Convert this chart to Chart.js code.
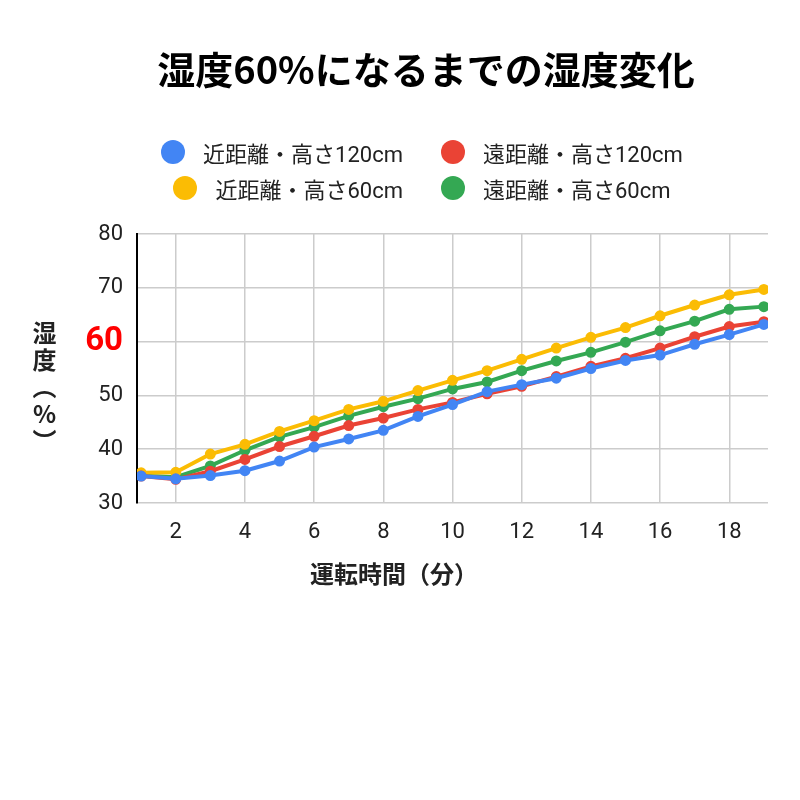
<!DOCTYPE html>
<html>
<head>
<meta charset="utf-8">
<script src="https://cdn.jsdelivr.net/npm/chart.js@4.4.1/dist/chart.umd.min.js"></script>
<style>
  body { margin: 0; background: #fff; }
  #wrap { position: relative; width: 800px; height: 800px; font-family: Roboto, "Noto Sans CJK JP", sans-serif; }
  #title { position: absolute; left: 52px; right: 0; top: 44px; text-align: center;
           font: bold 38px "Noto Sans CJK JP", sans-serif; color: #000; line-height: 48px; }
  .legcol { position: absolute; top: 138px; display: flex; flex-direction: column; gap: 8px; }
  .legitem { display: flex; align-items: center; height: 28px; font-size: 22px; color: #222; }
  .legitem .dot { width: 24px; height: 24px; border-radius: 50%; margin-right: 18px; }
  #yTitle { position: absolute; left: 27px; top: 321px; writing-mode: vertical-rl; text-orientation: upright;
            letter-spacing: 3px; font: bold 24px "Noto Sans CJK JP", sans-serif; color: #222; }
  #xTitle { position: absolute; left: 310px; top: 555px; font: bold 24px "Noto Sans CJK JP", sans-serif; color: #222; }
</style>
</head>
<body>
<div id="wrap">
  <canvas id="myChart" width="800" height="800"></canvas>
  <div id="title">湿度60%になるまでの湿度変化</div>
  <div class="legcol" id="leg1" style="right:397px; align-items:flex-end;"></div>
  <div class="legcol" id="leg2" style="left:441px; align-items:flex-start;"></div>
  <div id="yTitle">湿度（%）</div>
  <div id="xTitle">運転時間（分）</div>
</div>
<script>
// 運転時間（分）
var minutes = [1, 2, 3, 4, 5, 6, 7, 8, 9, 10, 11, 12, 13, 14, 15, 16, 17, 18, 19];

// 湿度（%）
var near120 = [35.0, 34.5, 35.1, 36.0, 37.8, 40.4, 41.9, 43.5, 46.1, 48.3, 50.7, 52.0, 53.2, 55.0, 56.5, 57.5, 59.5, 61.3, 63.2];
var far120  = [35.0, 34.4, 35.9, 38.1, 40.5, 42.4, 44.4, 45.8, 47.4, 48.7, 50.3, 51.7, 53.5, 55.4, 56.9, 58.8, 60.9, 62.8, 63.7];
var near60  = [35.6, 35.7, 39.1, 40.9, 43.3, 45.3, 47.4, 48.9, 50.9, 52.8, 54.6, 56.7, 58.8, 60.8, 62.6, 64.8, 66.8, 68.7, 69.7];
var far60   = [35.1, 34.8, 36.9, 39.8, 42.3, 44.1, 46.2, 47.9, 49.4, 51.2, 52.5, 54.6, 56.4, 58.0, 59.9, 62.0, 63.8, 66.0, 66.5];

var xTicks = [2, 4, 6, 8, 10, 12, 14, 16, 18];
var yTicks = [30, 40, 50, 60, 70, 80];

function points(values) {
    return minutes.map(function(m, i) { return { x: m, y: values[i] }; });
}

function series(label, values, color) {
    return {
        label: label,
        data: points(values),
        borderColor: color,
        backgroundColor: color,
        borderWidth: 4,
        pointRadius: 3.5,
        pointHoverRadius: 4,
        tension: 0
    };
}

var datasets = [
    series('近距離・高さ120cm', near120, '#4285F4'),
    series('遠距離・高さ120cm', far120, '#EA4335'),
    series('近距離・高さ60cm', near60, '#FBBC04'),
    series('遠距離・高さ60cm', far60, '#34A853')
];

function isSixty(c) {
    return c.tick && c.tick.value === 60;
}

var ctx = document.getElementById('myChart').getContext('2d');
var myChart = new Chart(ctx, {
    type: 'line',
    data: { datasets: datasets },
    options: {
        responsive: false,
        animation: false,
        layout: { padding: { top: 234, right: 32, left: 0, bottom: 0 } },
        plugins: {
            legend: { display: false },
            tooltip: { enabled: false }
        },
        scales: {
            x: {
                type: 'linear',
                min: 0.88,
                max: 19.12,
                afterBuildTicks: function(axis) {
                    axis.ticks = xTicks.map(function(v) { return { value: v }; });
                },
                afterFit: function(axis) { axis.height = 297; },
                grid: { color: '#cccccc', lineWidth: 1.5, drawTicks: false },
                border: { display: false },
                ticks: {
                    padding: 16,
                    color: '#222',
                    font: { family: 'Roboto, "Liberation Sans", sans-serif', size: 22 }
                }
            },
            y: {
                min: 30,
                max: 80,
                afterBuildTicks: function(axis) {
                    axis.ticks = yTicks.map(function(v) { return { value: v }; });
                },
                afterFit: function(axis) { axis.width = 137; },
                grid: { color: '#cccccc', lineWidth: 1.5, drawTicks: false },
                border: { display: true, color: '#000', width: 2 },
                ticks: {
                    padding: 14,
                    color: function(c) { return isSixty(c) ? '#ff0000' : '#222'; },
                    font: function(c) {
                        return isSixty(c)
                            ? { family: 'Roboto, "Liberation Sans", sans-serif', size: 33, weight: 'bold' }
                            : { family: 'Roboto, "Liberation Sans", sans-serif', size: 22 };
                    }
                }
            }
        }
    }
});

// HTML legend in two columns, built from the chart datasets
function legendItem(ds) {
    var item = document.createElement('div');
    item.className = 'legitem';
    var dot = document.createElement('span');
    dot.className = 'dot';
    dot.style.background = ds.borderColor;
    var txt = document.createElement('span');
    txt.textContent = ds.label;
    item.appendChild(dot);
    item.appendChild(txt);
    return item;
}
var cols = [document.getElementById('leg1'), document.getElementById('leg2')];
// column 1: blue, yellow; column 2: red, green
[0, 2].forEach(function(i) { cols[0].appendChild(legendItem(myChart.data.datasets[i])); });
[1, 3].forEach(function(i) { cols[1].appendChild(legendItem(myChart.data.datasets[i])); });
</script>
</body>
</html>
